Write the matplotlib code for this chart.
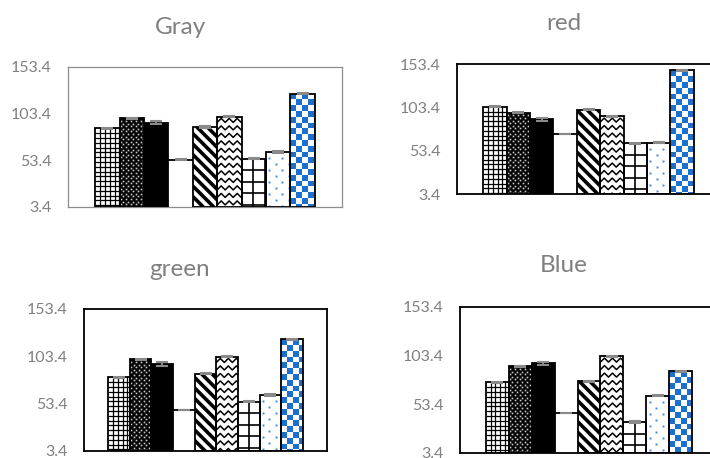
import matplotlib
matplotlib.use('Agg')
import matplotlib.pyplot as plt
import numpy as np
from matplotlib.collections import LineCollection, PatchCollection
from matplotlib.patches import Rectangle
from matplotlib.transforms import IdentityTransform

plt.rcParams['font.family'] = ['Lato', 'DejaVu Sans']

# bar values per channel (9 series, one category)
gray_vals = [87.7, 98.4, 93.8, 54.1, 89.1, 100.2, 55.2, 62.3, 124.8]
red_vals = [104.1, 97.2, 89.6, 72.6, 100.7, 93.0, 61.9, 62.6, 146.1]
green_vals = [81.2, 100.2, 95.3, 46.7, 85.1, 103.0, 55.5, 62.6, 121.4]
blue_vals = [76.0, 92.4, 95.5, 44.5, 77.0, 102.7, 35.2, 62.3, 87.3]

gray_err = [0.6, 0.7, 1.5, 0.5, 0.6, 0.6, 0.6, 0.6, 0.6]
red_err = [0.6, 0.8, 1.4, 0.5, 0.6, 0.7, 0.6, 0.6, 0.6]
green_err = [0.6, 0.7, 1.6, 0.5, 0.6, 0.6, 0.6, 0.6, 0.6]
blue_err = [0.6, 0.8, 1.4, 0.5, 0.6, 0.6, 0.6, 0.6, 0.6]

titles = ['Gray', 'red', 'green', 'Blue']
yticks = [3.4, 53.4, 103.4, 153.4]
ytick_labels = ['3.4', '53.4', '103.4', '153.4']
patterns = ['fine_grid', 'dense_dots', 'solid', 'blank', 'stripes',
            'zigzag', 'coarse_grid', 'blue_dots', 'checker']

W, H = 710, 458
Y0 = 3.4
BLUE = '#1a6fcf'
GREY_TXT = '#808080'
IDT = IdentityTransform()


def px(ax, rect):
    (x0, y0), (x1, y1) = ax.transData.transform(
        [(rect.get_x(), rect.get_y()), (rect.get_x() + rect.get_width(), rect.get_y() + rect.get_height())])
    return x0, y0, x1, y1


def add_clipped(ax, coll, rect):
    coll.set_transform(IDT)
    ax.add_collection(coll, autolim=False)
    coll.set_clip_path(rect)
    coll.set_zorder(2)


def grid_lines(ax, rect, step, lw):
    x0, y0, x1, y1 = px(ax, rect)
    segs = [[(x, y0), (x, y1)] for x in np.arange(x0 + step, x1, step)]
    segs += [[(x0, y), (x1, y)] for y in np.arange(y1 - step, y0, -step)]
    add_clipped(ax, LineCollection(segs, colors='black', linewidths=lw), rect)


def dot_field(ax, rect, dx, dy, color, size):
    x0, y0, x1, y1 = px(ax, rect)
    xs, ys = [], []
    for i, y in enumerate(np.arange(y1 - dy, y0, -dy)):
        off = dx / 2 if i % 2 else 0
        for x in np.arange(x0 + dx / 4 + off, x1, dx):
            xs.append(x)
            ys.append(y)
    ln, = ax.plot(xs, ys, linestyle='none', marker='s', ms=size, mfc=color, mec='none',
                  transform=IDT, zorder=2)
    ln.set_clip_path(rect)


def stripes(ax, rect, step, lw):
    x0, y0, x1, y1 = px(ax, rect)
    h = y1 - y0
    segs = [[(x, y1), (x + h, y0)] for x in np.arange(x0 - h, x1 + step, step)]
    add_clipped(ax, LineCollection(segs, colors='black', linewidths=lw), rect)


def zigzag(ax, rect, row, half, amp, lw):
    x0, y0, x1, y1 = px(ax, rect)
    xs = np.arange(x0 - half, x1 + half, half)
    segs = []
    for y in np.arange(y1 - row / 2, y0 - row, -row):
        ys = y + np.where(np.arange(len(xs)) % 2 == 0, amp / 2, -amp / 2)
        segs.append(np.column_stack([xs, ys]))
    add_clipped(ax, LineCollection(segs, colors='black', linewidths=lw), rect)


def checker(ax, rect, cell):
    x0, y0, x1, y1 = px(ax, rect)
    sq = []
    for j, y in enumerate(np.arange(y1, y0 - cell, -cell)):
        for i, x in enumerate(np.arange(x0, x1, cell)):
            if (i + j) % 2 == 0:
                sq.append(Rectangle((x, y - cell), cell, cell))
    add_clipped(ax, PatchCollection(sq, facecolor=BLUE, edgecolor='none'), rect)


def draw_panel(ax, vals, err, framed_gray):
    n = len(vals)
    xs = np.arange(n)
    ax.set_xlim(-1.12, n + 1.12)
    ax.set_ylim(Y0, 153.4)
    ax.set_autoscale_on(False)
    heights = [v - Y0 for v in vals]
    bars = ax.bar(xs, heights, width=1.0, bottom=Y0, align='edge', color='white',
                  edgecolor='none', zorder=1)
    for rect, pat, v in zip(bars, patterns, vals):
        if pat == 'fine_grid':
            grid_lines(ax, rect, 4.8, 0.9)
        elif pat == 'dense_dots':
            rect.set_facecolor('black')
            dot_field(ax, rect, 5.0, 2.6, '#c8c8c8', 1.2)
        elif pat == 'solid':
            rect.set_facecolor('black')
        elif pat == 'stripes':
            stripes(ax, rect, 10.5, 2.6)
        elif pat == 'zigzag':
            zigzag(ax, rect, 7.5, 4.0, 4.0, 1.1)
        elif pat == 'coarse_grid':
            grid_lines(ax, rect, 11.5, 1.2)
        elif pat == 'blue_dots':
            dot_field(ax, rect, 13.0, 6.0, '#4a8fd6', 1.6)
        elif pat == 'checker':
            checker(ax, rect, 5.8)
        if pat == 'blank':
            ax.hlines(v, rect.get_x(), rect.get_x() + rect.get_width(), color='black', lw=1.3, zorder=3)
        else:
            ax.bar(rect.get_x(), rect.get_height(), width=rect.get_width(), bottom=Y0, align='edge',
                   fill=False, edgecolor='black', linewidth=1.3, zorder=3)
    ax.errorbar(xs + 0.5, vals, yerr=err, fmt='none', ecolor='#8a8a8a', elinewidth=1.5,
                capsize=4, capthick=1.5, zorder=5)
    ax.set_xticks([])
    ax.set_yticks(yticks)
    ax.set_yticklabels(ytick_labels)
    ax.tick_params(axis='y', length=0, pad=12, labelsize=11.5, labelcolor=GREY_TXT)
    for sp in ax.spines.values():
        if framed_gray:
            sp.set_color('#8c8c8c')
            sp.set_linewidth(0.9)
        else:
            sp.set_color('black')
            sp.set_linewidth(1.3)


fig = plt.figure(figsize=(W / 100, H / 100), dpi=100)

# axes boxes in pixels: left, top, right, bottom
boxes = [(68, 67, 342, 207), (457, 64, 720, 194), (84, 309, 327, 451), (460, 307, 718, 453)]
title_pos = [(180, 27), (564, 23), (180, 269), (564, 266)]
all_vals = [gray_vals, red_vals, green_vals, blue_vals]
all_err = [gray_err, red_err, green_err, blue_err]

for k in range(4):
    l, t, r, b = boxes[k]
    ax = fig.add_axes([l / W, 1 - b / H, (r - l) / W, (b - t) / H])
    draw_panel(ax, all_vals[k], all_err[k], k == 0)
    tx, ty = title_pos[k]
    fig.text(tx / W, 1 - ty / H, titles[k], ha='center', va='center', fontsize=17.5, color=GREY_TXT)

fig.savefig('out.png', dpi=100)
